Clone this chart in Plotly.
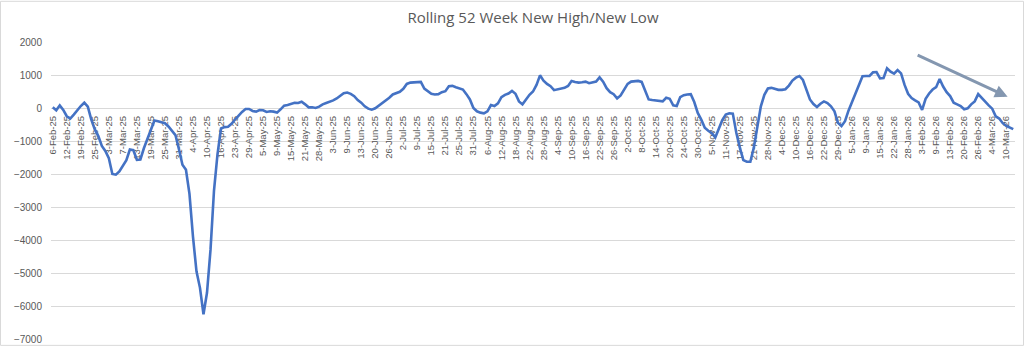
import pandas as pd
import plotly.graph_objects as go

title = "Rolling 52 Week New High/New Low"

start_date = "2025-02-06"
end_date = "2026-03-12"
market_holidays = ["2025-02-17", "2025-04-18", "2025-05-26", "2025-06-19", "2025-07-04",
                   "2025-09-01", "2025-11-27", "2025-12-25", "2026-01-01", "2026-01-19",
                   "2026-02-16"]

net_high_low = [
    20, -70, 80, -60, -250, -320, -200, -60, 60, 160,
    40, -350, -650, -850, -1150, -1300, -1520, -2000, -2020, -1920,
    -1750, -1580, -1260, -1280, -1570, -1560, -1220, -950, -700, -380,
    -400, -430, -460, -560, -680, -820, -1250, -1720, -1870, -2600,
    -3900, -4950, -5450, -6250, -5600, -4300, -2500, -1400, -620, -580,
    -570, -480, -350, -230, -120, -30, -30, -90, -110, -60,
    -70, -120, -100, -110, -140, -40, 70, 90, 120, 160,
    150, 190, 110, 20, 20, 0, 40, 110, 150, 180,
    230, 290, 380, 450, 470, 430, 360, 240, 160, 50,
    -20, -50, -10, 70, 150, 220, 310, 410, 460, 490,
    580, 730, 770, 780, 770, 790, 590, 500, 430, 410,
    420, 480, 510, 660, 670, 630, 600, 560, 420, 260,
    0, -100, -140, -160, -100, 90, 60, 140, 330, 400,
    440, 520, 430, 200, 110, 260, 400, 500, 700, 990,
    830, 730, 660, 540, 560, 590, 610, 670, 820, 790,
    770, 780, 800, 750, 770, 800, 930, 800, 600, 480,
    420, 290, 380, 570, 730, 800, 820, 820, 790, 550,
    260, 240, 230, 220, 200, 310, 280, 80, 60, 330,
    390, 410, 420, 180, -150, -350, -600, -690, -760, -890,
    -650, -370, -200, -160, -170, -750, -1200, -1580, -1630, -1630,
    -1200, -600, 50, 400, 590, 610, 570, 550, 550, 570,
    680, 830, 920, 970, 850, 580, 260, 120, 30, 130,
    200, 150, 50, -100, -450, -550, -400, -80, 180, 480,
    740, 960, 970, 970, 1080, 1090, 900, 910, 1200, 1100,
    1040, 1150, 1050, 700, 430, 300, 230, 170, -60, 280,
    440, 560, 630, 880, 650, 480, 360, 160, 110, 60,
    -40, -10, 110, 200, 420, 300, 200, 80, -20, -250,
    -320, -460, -540, -600, -640,
]

# trend arrow (annotation): from (category index, value) to (category index, value)
arrow_from = (246.3, 1620)
arrow_to = (272.4, 340)

dates = pd.bdate_range(start_date, end_date, freq="C", holidays=market_holidays)
labels = [f"{d.day}-{d.strftime('%b-%y')}" for d in dates]
n = min(len(labels), len(net_high_low))
labels = labels[:n]
values = net_high_low[:n]

W, H = 1024, 352
ml, mr, mt, mb = 51, 9, 42, 7
pw, ph = W - ml - mr, H - mt - mb

fig = go.Figure()
fig.add_trace(go.Scatter(
    x=labels, y=values, mode="lines",
    line=dict(color="#4472C4", width=2.6, shape="linear"),
    hoverinfo="x+y", showlegend=False,
))

fig.update_layout(
    width=W, height=H,
    margin=dict(l=ml, r=mr, t=mt, b=mb),
    paper_bgcolor="white", plot_bgcolor="white",
    title=dict(text=title, x=0.5, xref="paper", xanchor="center", y=1 - 18 / H, yanchor="middle",
               font=dict(family="Open Sans, Liberation Sans, sans-serif", size=15, color="#595959")),
    font=dict(family="Liberation Sans, Arial, sans-serif", color="#595959"),
)

fig.update_xaxes(
    type="category",
    categoryorder="array", categoryarray=labels,
    range=[-0.5, n - 0.5],
    tickmode="array", tickvals=labels[::4], ticktext=labels[::4],
    tickangle=-90,
    tickfont=dict(family="Liberation Sans Narrow, Liberation Sans, sans-serif", size=9.5, color="#595959"),
    showgrid=False, showline=False, zeroline=False, ticks="",
    anchor="free", position=7000 / 9000,
    layer="below traces",
    ticklabelstandoff=5,
)
fig.update_yaxes(
    range=[-7000, 2000], dtick=1000, tick0=0,
    showgrid=True, gridcolor="#D9D9D9", gridwidth=1,
    zeroline=False, showline=False, ticks="",
    tickfont=dict(family="Liberation Sans, Arial, sans-serif", size=10, color="#595959"),
    ticklabelstandoff=8,
)

fig.add_annotation(
    x=arrow_to[0], y=arrow_to[1], ax=arrow_from[0], ay=arrow_from[1],
    xref="x", yref="y", axref="x", ayref="y",
    text="", showarrow=True, arrowhead=2, arrowsize=0.85, arrowwidth=3,
    arrowcolor="#8497B0",
)

fig.add_shape(type="rect", xref="paper", yref="paper",
              x0=(-ml + 0.5) / pw, x1=1 + (mr - 0.5) / pw,
              y0=(-mb + 0.5) / ph, y1=1 + (mt - 0.5) / ph,
              line=dict(color="#D9D9D9", width=1), fillcolor="rgba(0,0,0,0)", layer="below")

fig.write_html("out.html")
